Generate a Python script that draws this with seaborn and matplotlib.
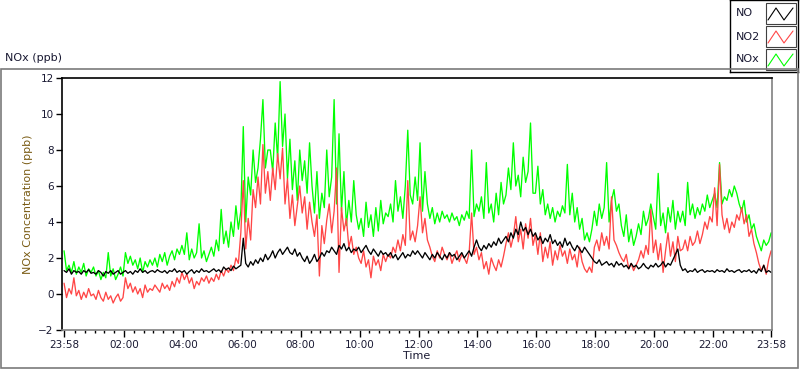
## NOx time series (NO, NO2, NOx) over one day, LabVIEW style graph
import numpy as np
import pandas as pd
import matplotlib
matplotlib.use("Agg")
import matplotlib.pyplot as plt
import matplotlib.patches as patches
import seaborn as sns

# 5-minute values starting 23:58, one row per hour (12 values), plus final point
no_ppb = [
    1.3, 1.2, 1.4, 1.1, 1.3, 1.2, 1.25, 1.1, 1.3, 1.2, 1.35, 1.15,
    1.2, 1.1, 1.3, 1.2, 1.0, 1.25, 1.15, 1.3, 1.1, 1.2, 1.3, 1.1,
    1.2, 1.3, 1.15, 1.25, 1.1, 1.3, 1.2, 1.4, 1.2, 1.3, 1.15, 1.25,
    1.3, 1.2, 1.35, 1.25, 1.2, 1.3, 1.15, 1.3, 1.25, 1.4, 1.2, 1.3,
    1.2, 1.3, 1.1, 1.25, 1.35, 1.15, 1.3, 1.2, 1.4, 1.25, 1.3, 1.2,
    1.3, 1.4, 1.25, 1.35, 1.2, 1.5, 1.35, 1.45, 1.3, 1.55, 1.4, 1.5,
    1.6, 3.1, 1.7, 1.5, 1.8, 1.6, 1.9, 1.7, 2.0, 1.8, 2.2, 1.9,
    2.1, 2.4, 2.0, 2.3, 2.5, 2.2, 2.4, 2.6, 2.3, 2.2, 2.5, 2.1,
    2.3, 2.0, 1.8, 2.1, 1.7, 1.9, 2.2, 1.8, 2.0, 2.3, 2.1, 2.4,
    2.3, 2.6, 2.4, 2.2, 2.7, 2.5, 2.8, 2.4, 2.6, 2.3, 2.5, 2.4,
    2.6, 2.3, 2.5, 2.7, 2.4, 2.2, 2.5, 2.3, 2.1, 2.4, 2.2, 2.3,
    2.1, 2.3, 2.0, 2.2, 1.9, 2.1, 2.3, 2.0, 2.2, 2.1, 2.4, 2.2,
    2.4, 2.2, 2.0, 2.3, 2.1, 1.9, 2.2, 2.0, 2.3, 2.1, 1.9, 2.2,
    2.0, 2.3, 2.1, 2.2, 1.9, 2.1, 2.3, 2.0, 2.2, 2.4, 2.1, 2.6,
    3.0, 2.6, 2.4, 2.7, 2.5, 2.8, 2.6, 2.9, 2.7, 3.1, 2.8, 3.0,
    3.2, 2.9, 3.4, 3.1, 3.6, 3.3, 4.0, 3.5, 3.7, 3.3, 3.6, 3.2,
    3.4, 3.0, 3.2, 2.8, 3.1, 2.9, 3.3, 2.8, 3.0, 2.7, 2.9, 2.6,
    3.1, 2.7, 2.9, 2.6, 2.4, 2.7, 2.5, 2.3, 2.6, 2.4, 2.2, 2.0,
    1.8, 1.7, 1.9, 1.6, 1.7, 1.8, 1.6, 1.7, 1.5, 1.8, 1.6, 1.7,
    1.5, 1.6, 1.4, 1.7, 1.5, 1.6, 1.4, 1.5, 1.7, 1.5, 1.4, 1.6,
    1.5, 1.7, 1.5, 1.6, 1.8, 1.5, 1.7, 1.6, 1.9, 2.2, 2.5, 1.6,
    1.3, 1.4, 1.2, 1.3, 1.25, 1.4, 1.2, 1.3, 1.35, 1.2, 1.3, 1.25,
    1.3, 1.2, 1.35, 1.25, 1.3, 1.2, 1.4, 1.25, 1.3, 1.2, 1.3, 1.35,
    1.2, 1.3, 1.25, 1.35, 1.2, 1.3, 1.15, 1.4, 1.25, 1.6, 1.2, 1.3,
    1.2,
]

no2_ppb = [
    0.6, -0.2, 0.3, 0.0, 0.9, -0.1, 0.2, -0.3, 0.1, -0.2, 0.3, -0.1,
    0.0, -0.3, 0.2, -0.2, -0.4, 0.1, -0.3, -0.1, -0.5, -0.2, 0.0, -0.4,
    -0.2, 0.9, 0.3, 0.6, 0.1, 0.4, 0.0, 0.3, -0.2, 0.5, 0.1, 0.3,
    0.2, 0.5, 0.3, 0.1, 0.6, 0.3, 0.5, 0.2, 0.7, 0.4, 0.9, 0.6,
    1.2, 0.8, 1.1, 0.6, 0.9, 0.3, 0.7, 0.5, 0.9, 0.7, 1.0, 0.6,
    0.9, 0.7, 1.1, 0.8, 1.3, 1.0, 1.4, 1.2, 1.6, 1.3, 2.0, 1.7,
    3.4, 6.3, 2.5, 4.2, 3.0, 5.8, 4.8, 6.5, 5.0, 8.3, 5.6, 6.8,
    5.2, 7.0, 5.8, 7.8, 6.4, 8.1, 5.0, 6.4, 4.2, 5.5, 3.8, 4.9,
    6.0, 4.5, 5.4, 3.6, 5.1, 4.0, 3.2, 4.4, 1.0, 3.8, 2.8, 4.1,
    5.0, 3.4, 4.6, 7.0, 1.2, 4.8, 3.5, 4.2, 2.6, 3.2, 2.2, 2.6,
    2.0, 1.7, 2.4, 1.5, 1.9, 0.9, 2.1, 1.6, 1.9, 1.3, 2.2, 1.8,
    2.2, 2.0, 2.6, 2.3, 3.0, 2.4, 3.3, 2.7, 6.3, 3.0, 3.5, 2.9,
    3.8, 5.4, 3.4, 4.2, 3.0, 2.6, 2.1, 1.8, 2.4, 2.0, 2.6, 2.2,
    1.9, 2.3, 1.7, 2.1, 2.4, 1.8, 2.2, 2.0, 1.7, 2.3, 4.5, 2.2,
    2.6, 1.9, 2.3, 1.4, 1.8, 1.1, 2.0, 1.6, 1.3, 1.9, 1.5, 2.1,
    2.8, 3.4, 2.6, 3.2, 4.3, 2.9, 3.6, 2.5, 3.9, 3.1, 4.2, 2.7,
    3.3, 2.2, 3.4, 1.8, 2.6, 2.0, 2.9, 1.6, 2.4, 1.9, 2.7, 2.1,
    2.4, 1.7, 2.5, 1.9, 2.2, 1.5, 2.6, 1.8, 1.4, 1.2, 1.5, 1.2,
    2.6, 3.0, 2.4, 3.4, 2.7, 3.2, 2.5, 5.4, 3.0, 2.7, 2.3, 2.0,
    1.8, 2.2, 1.4, 1.7, 1.3, 1.6, 1.9, 2.4, 2.0, 2.7, 2.2, 4.7,
    2.3, 3.0, 1.9, 2.8, 1.2, 2.4, 3.4, 2.1, 2.9, 1.8, 3.2, 2.4,
    2.5, 3.0, 2.4, 3.2, 2.7, 2.9, 3.5, 2.8, 3.3, 4.0, 3.6, 4.3,
    4.0, 5.9, 3.8, 7.2, 4.4, 3.6, 4.2, 3.4, 4.0, 3.7, 4.4, 4.1,
    4.8, 3.9, 4.4, 3.2, 3.6, 2.8, 2.3, 1.7, 1.3, 1.6, 1.1, 1.9,
    2.4,
]

nox_ppb = [
    2.4, 1.3, 1.6, 1.2, 1.8, 1.1, 1.5, 1.2, 1.7, 1.0, 1.4, 1.2,
    1.5, 1.0, 1.3, 0.8, 1.2, 0.9, 2.3, 1.0, 1.4, 0.8, 1.1, 1.5,
    1.0, 2.3, 1.7, 2.1, 1.6, 1.9, 1.4, 2.0, 1.2, 1.8, 1.5, 1.9,
    1.6, 2.0, 1.5, 2.2, 1.8, 2.3, 1.6, 2.1, 2.4, 1.9, 2.5, 2.2,
    2.7, 2.2, 3.4, 1.9, 2.5, 2.0, 2.3, 3.9, 2.0, 2.4, 1.8, 2.2,
    2.6, 2.1, 3.0, 2.4, 4.7, 2.8, 3.5, 2.6, 4.0, 3.2, 4.9, 3.6,
    4.6, 9.3, 4.0, 6.5, 5.5, 8.0, 6.2, 7.0, 8.6, 10.8, 7.0, 8.0,
    8.0, 6.8, 9.5, 7.5, 11.8, 8.2, 10.0, 6.4, 8.6, 5.8, 7.4, 5.2,
    8.0, 6.3, 7.4, 5.6, 8.4, 6.0, 4.5, 6.8, 4.2, 5.6, 4.8, 8.0,
    5.4, 6.5, 10.8, 5.0, 8.9, 4.6, 6.8, 3.8, 5.2, 4.0, 6.3, 4.4,
    3.6, 4.2, 3.2, 5.1, 3.7, 4.4, 3.2, 4.8, 3.5, 5.2, 3.9, 4.5,
    4.3, 5.0, 4.0, 6.3, 4.6, 5.4, 4.2, 6.0, 9.1, 5.5, 5.0, 6.5,
    5.2, 8.4, 4.6, 6.8, 5.0, 4.2, 4.8, 3.9, 4.5, 4.0, 4.6, 4.2,
    4.4, 4.0, 4.5, 4.1, 4.3, 3.8, 4.4, 4.1, 4.6, 4.2, 8.0, 4.3,
    5.0, 4.6, 5.4, 4.2, 7.3, 4.5, 5.0, 4.0, 5.6, 4.4, 6.2, 5.0,
    5.5, 7.0, 5.8, 8.4, 6.0, 6.6, 5.4, 7.6, 6.2, 6.8, 9.5, 5.6,
    5.6, 7.1, 5.0, 5.8, 4.4, 5.0, 4.2, 4.8, 4.0, 4.6, 4.3, 4.9,
    4.5, 7.2, 4.4, 5.6, 4.0, 4.8, 3.6, 4.2, 3.0, 3.4, 2.9, 3.6,
    4.6, 3.8, 5.0, 4.2, 4.8, 7.3, 4.0, 5.2, 5.8, 4.6, 5.0, 3.8,
    3.2, 4.4, 2.9, 3.6, 2.7, 3.2, 3.9, 3.3, 4.6, 3.8, 4.2, 5.0,
    4.3, 3.6, 6.7, 3.8, 4.5, 3.4, 4.8, 4.0, 5.2, 3.6, 4.6, 4.0,
    4.6, 3.8, 6.2, 4.4, 5.0, 4.2, 4.8, 4.4, 5.0, 4.6, 5.5, 4.8,
    5.2, 5.6, 4.8, 7.3, 5.0, 5.4, 5.2, 5.8, 5.4, 6.0, 5.6, 5.0,
    4.6, 5.2, 4.0, 4.4, 3.6, 3.9, 3.2, 2.8, 2.4, 3.0, 2.7, 2.9,
    3.4,
]

series_names = ["NOx", "NO2", "NO"]
series_colors = {"NO": "black", "NO2": "#ff4646", "NOx": "#00ff00"}

# x tick labels and hours since 23:58
tick_labels = ["23:58", "02:00", "04:00", "06:00", "08:00", "10:00", "12:00",
               "14:00", "16:00", "18:00", "20:00", "22:00", "23:58"]


def main():
    hours = np.arange(len(no_ppb)) / 12.0
    df = pd.concat([
        pd.DataFrame({"hours": hours, "ppb": nox_ppb, "series": "NOx"}),
        pd.DataFrame({"hours": hours, "ppb": no2_ppb, "series": "NO2"}),
        pd.DataFrame({"hours": hours, "ppb": no_ppb, "series": "NO"}),
    ])

    sns.set_style("white")
    plt.rcParams['font.family'] = ['DejaVu Sans']

    fig = plt.figure(figsize=(8, 3.69), dpi=100)
    ax = fig.add_axes([62 / 800, 1 - 330 / 369, 710 / 800, 252 / 369])

    sns.lineplot(data=df, x="hours", y="ppb", hue="series", hue_order=series_names,
                 palette=series_colors, estimator=None, linewidth=0.95,
                 legend=False, ax=ax)

    # major ticks: 23:58, then every two hours from 02:00, then 23:58
    major = [0.0] + [2 / 60 + 2 * k for k in range(1, 12)] + [24.0]
    minor = [2 / 60 + 20 / 60 * k for k in range(1, 72)]
    ax.set_xticks(major)
    ax.set_xticklabels(tick_labels)
    ax.set_xticks(minor, minor=True)
    ax.set_xlim(-0.07, 24.03)
    ax.set_ylim(-2, 12)
    ax.set_yticks(range(-2, 13, 2))

    text_col = "#1a1a33"
    ax.tick_params(axis="both", which="major", direction="out", length=4,
                   width=1, labelsize=7.5, colors="black", labelcolor=text_col, pad=2)
    ax.tick_params(axis="x", which="minor", direction="out", length=2.5, width=1,
                   colors="black", bottom=True)
    ax.tick_params(axis="x", which="major", length=5, bottom=True)
    ax.tick_params(axis="y", left=True)

    ax.set_xlabel("Time", fontsize=8, color=text_col, labelpad=1)
    ax.set_ylabel("NOx Concentration (ppb)", fontsize=8, color="#7a5c14", labelpad=4)

    for side in ["top", "left"]:
        ax.spines[side].set_color("black")
        ax.spines[side].set_linewidth(1.2)
    for side in ["right", "bottom"]:
        ax.spines[side].set_color("#808080")
        ax.spines[side].set_linewidth(1.2)

    # outer graph frame and caption
    frame = patches.Rectangle((0.5 / 800, 1 / 369), 797.5 / 800, 299 / 369,
                              transform=fig.transFigure, fill=False,
                              edgecolor="#7a7a7a", linewidth=1.2)
    fig.patches.append(frame)
    fig.text(5 / 800, 1 - 58 / 369, "NOx (ppb)", fontsize=8, color=text_col,
             va="center", ha="left")

    # plot legend box, top right
    lax = fig.add_axes([730 / 800, 1 - 72 / 369, 68 / 800, 72 / 369])
    lax.set_xlim(0, 68)
    lax.set_ylim(72, 0)
    lax.set_xticks([])
    lax.set_yticks([])
    lax.set_facecolor("white")
    for s in lax.spines.values():
        s.set_color("black")
        s.set_linewidth(1)
    for i, name in enumerate(["NO", "NO2", "NOx"]):
        y0 = 3 + 23 * i
        lax.text(6, y0 + 10.5, name, fontsize=8, color=text_col, va="center", ha="left")
        lax.add_patch(patches.Rectangle((36, y0), 30, 21, fill=False,
                                        edgecolor="#404040", linewidth=0.8))
        lax.plot([38, 46, 54, 63], [y0 + 17, y0 + 5, y0 + 17, y0 + 5],
                 color=series_colors[name], linewidth=0.8)

    plt.savefig("out.png", dpi=100)


if __name__ == '__main__':
    main()
